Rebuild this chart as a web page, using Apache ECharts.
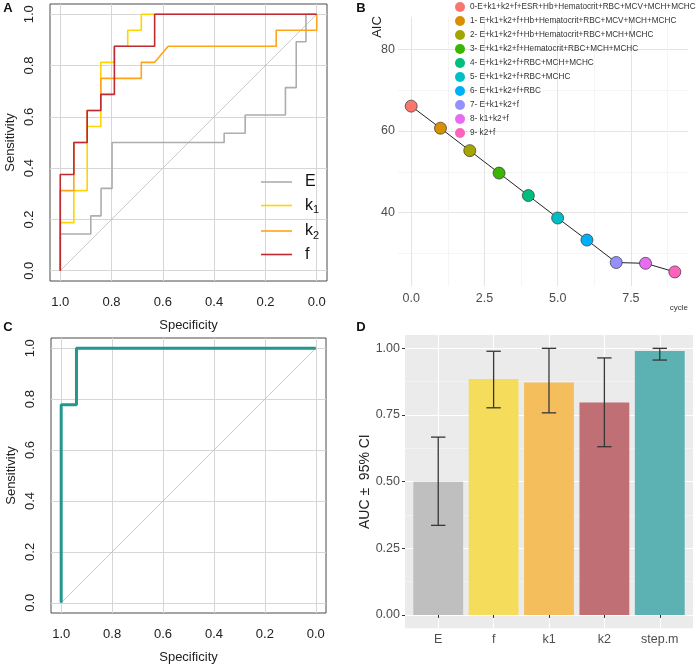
<!DOCTYPE html>
<html><head><meta charset="utf-8">
<script src="https://cdn.jsdelivr.net/npm/echarts@6/dist/echarts.min.js"></script>
<style>html,body{margin:0;padding:0;background:#fff}#c{width:700px;height:666px}</style>
</head><body><div id="c"></div>
<script>
// ---------- Panel A : ROC curves (specificity, sensitivity) ----------
const E_spec  = [1, 1, 0.881, 0.881, 0.841, 0.841, 0.798, 0.798, 0.361, 0.361, 0.279, 0.279, 0.122, 0.122, 0.080, 0.080, 0.042, 0.042, 0];
const E_sens  = [0, 0.143, 0.143, 0.214, 0.214, 0.321, 0.321, 0.5, 0.5, 0.536, 0.536, 0.607, 0.607, 0.714, 0.714, 0.893, 0.893, 1, 1];
const k1_spec = [1, 1, 0.947, 0.947, 0.895, 0.895, 0.842, 0.842, 0.789, 0.789, 0.737, 0.737, 0.684, 0.684, 0];
const k1_sens = [0, 0.1875, 0.1875, 0.3125, 0.3125, 0.5625, 0.5625, 0.8125, 0.8125, 0.875, 0.875, 0.9375, 0.9375, 1, 1];
const k2_spec = [1, 1, 0.947, 0.947, 0.895, 0.895, 0.842, 0.842, 0.684, 0.684, 0.632, 0.579, 0.158, 0.158, 0, 0];
const k2_sens = [0, 0.3125, 0.3125, 0.5, 0.5, 0.625, 0.625, 0.75, 0.75, 0.8125, 0.8125, 0.875, 0.875, 0.9375, 0.9375, 1];
const f_spec  = [1, 1, 0.947, 0.947, 0.895, 0.895, 0.842, 0.842, 0.789, 0.789, 0.632, 0.632, 0];
const f_sens  = [0, 0.375, 0.375, 0.5, 0.5, 0.625, 0.625, 0.6875, 0.6875, 0.875, 0.875, 1, 1];
const rocTicks = [0, 0.2, 0.4, 0.6, 0.8, 1.0];

// ---------- Panel B : stepwise AIC ----------
const cycles = [0, 1, 2, 3, 4, 5, 6, 7, 8, 9];
const aic = [66.1, 60.7, 55.2, 49.7, 44.2, 38.7, 33.3, 27.8, 27.6, 25.5];
const models = [
  '0-E+k1+k2+f+ESR+Hb+Hematocrit+RBC+MCV+MCH+MCHC',
  '1- E+k1+k2+f+Hb+Hematocrit+RBC+MCV+MCH+MCHC',
  '2- E+k1+k2+f+Hb+Hematocrit+RBC+MCH+MCHC',
  '3- E+k1+k2+f+Hematocrit+RBC+MCH+MCHC',
  '4- E+k1+k2+f+RBC+MCH+MCHC',
  '5- E+k1+k2+f+RBC+MCHC',
  '6- E+k1+k2+f+RBC',
  '7- E+k1+k2+f',
  '8- k1+k2+f',
  '9- k2+f'
];
const bXMajor = [0, 2.5, 5.0, 7.5];
const bXMinor = [1.25, 3.75, 6.25, 8.75];
const bYMajor = [40, 60, 80];
const bYMinor = [30, 50, 70];

// ---------- Panel C : step model ROC ----------
const step_spec = [1, 1, 0.94, 0.94, 0];
const step_sens = [0, 0.778, 0.778, 1, 1];

// ---------- Panel D : AUC ± 95% CI ----------
const cats   = ['E', 'f', 'k1', 'k2', 'step.m'];
const auc    = [0.500, 0.885, 0.872, 0.797, 0.990];
const ciLow  = [0.336, 0.777, 0.758, 0.631, 0.956];
const ciHigh = [0.667, 0.989, 1.000, 0.964, 1.000];
const dYMajor = [0, 0.25, 0.5, 0.75, 1.0];
const dYMinor = [0.125, 0.375, 0.625, 0.875];

// ---------- styles ----------
const FONT = 'Liberation Sans, Arial, Helvetica, sans-serif';
const rocColors = { E: '#ADADAD', k1: '#FFD500', k2: '#FFA31A', f: '#BE2A2E' };
const hue = ['#F8766D', '#D89000', '#A3A500', '#39B600', '#00BF7D', '#00BFC4', '#00B0F6', '#9590FF', '#E76BF3', '#FF62BC'];
const barColors = ['#BFBFBF', '#F6DC5B', '#F5BE5D', '#C07074', '#5CB1B2'];

const zip = (a, b) => a.map((v, i) => [v, b[i]]);

function rocXAxis(gi) {
  return {
    gridIndex: gi, type: 'value', inverse: true, min: -0.04, max: 1.04,
    axisLine: { show: false },
    axisTick: { show: false, customValues: rocTicks },
    axisLabel: { customValues: rocTicks, formatter: v => v.toFixed(1), margin: 15, fontSize: 13, color: '#222', fontFamily: FONT },
    splitLine: { show: true, lineStyle: { color: '#D6D6D6', width: 1 } },
    name: 'Specificity', nameLocation: 'middle', nameGap: 38,
    nameTextStyle: { fontSize: 13, color: '#222', fontFamily: FONT }
  };
}
function rocYAxis(gi) {
  return {
    gridIndex: gi, type: 'value', min: -0.04, max: 1.04,
    axisLine: { show: false },
    axisTick: { show: false, customValues: rocTicks },
    axisLabel: { customValues: rocTicks, formatter: v => v.toFixed(1), rotate: 90, margin: 14, fontSize: 13, color: '#222', fontFamily: FONT },
    splitLine: { show: true, lineStyle: { color: '#D6D6D6', width: 1 } },
    name: 'Sensitivity', nameLocation: 'middle', nameGap: 33,
    nameTextStyle: { fontSize: 13, color: '#222', fontFamily: FONT }
  };
}
function diag(xi) {
  return { type: 'line', xAxisIndex: xi, yAxisIndex: xi, data: [[1, 0], [0, 1]], symbol: 'none', silent: true,
    lineStyle: { color: '#BDBDBD', width: 0.8 }, z: 1 };
}
function hidden(extra) {
  return Object.assign({ axisLine: { show: false }, axisLabel: { show: false }, axisTick: { show: false } }, extra);
}

const series = [];
// A
series.push(diag(0));
[['E', E_spec, E_sens], ['k1', k1_spec, k1_sens], ['k2', k2_spec, k2_sens], ['f', f_spec, f_sens]].forEach(([n, s, t]) => {
  series.push({ name: n, type: 'line', xAxisIndex: 0, yAxisIndex: 0, data: zip(s, t), symbol: 'none',
    color: rocColors[n], lineStyle: { color: rocColors[n], width: 1.6 }, z: 3 });
});
// B
series.push({ type: 'line', xAxisIndex: 1, yAxisIndex: 1, data: zip(cycles, aic), symbol: 'none',
  lineStyle: { color: '#222', width: 1 }, silent: true, z: 2 });
models.forEach((m, i) => {
  series.push({ name: m, type: 'scatter', xAxisIndex: 1, yAxisIndex: 1, data: [[cycles[i], aic[i]]],
    symbolSize: 12, itemStyle: { color: hue[i], borderColor: '#333', borderWidth: 0.7, opacity: 1 }, z: 4 });
});
// C
series.push(diag(3));
series.push({ type: 'line', xAxisIndex: 3, yAxisIndex: 3, data: zip(step_spec, step_sens), symbol: 'none',
  lineStyle: { color: '#22968F', width: 3 }, z: 3 });
// D bars
series.push({
  type: 'custom', xAxisIndex: 4, yAxisIndex: 4,
  data: cats.map((c, i) => [i + 1, auc[i]]),
  encode: { x: 0, y: 1 },
  renderItem: (params, api) => {
    const x = api.value(0), v = api.value(1);
    const p0 = api.coord([x - 0.45, v]);
    const p1 = api.coord([x + 0.45, 0]);
    return { type: 'rect', shape: { x: p0[0], y: p0[1], width: p1[0] - p0[0], height: p1[1] - p0[1] },
      style: { fill: barColors[params.dataIndex] } };
  }, z: 3
});
// D error bars
series.push({
  type: 'custom', xAxisIndex: 4, yAxisIndex: 4,
  data: cats.map((c, i) => [i + 1, ciLow[i], ciHigh[i]]),
  encode: { x: 0, y: [1, 2] },
  renderItem: (params, api) => {
    const x = api.value(0), lo = api.value(1), hi = api.value(2);
    const top = api.coord([x, hi]), bot = api.coord([x, lo]);
    const l = api.coord([x - 0.13, hi])[0], r = api.coord([x + 0.13, hi])[0];
    const st = { stroke: '#363636', lineWidth: 1.3 };
    return { type: 'group', children: [
      { type: 'line', shape: { x1: top[0], y1: top[1], x2: bot[0], y2: bot[1] }, style: st },
      { type: 'line', shape: { x1: l, y1: top[1], x2: r, y2: top[1] }, style: st },
      { type: 'line', shape: { x1: l, y1: bot[1], x2: r, y2: bot[1] }, style: st }
    ] };
  }, z: 4
});

const letter = (t, x, y) => ({ type: 'text', x: x, y: y, style: { text: t, font: 'bold 13px ' + FONT, fill: '#111', align: 'center', verticalAlign: 'middle' } });

const option = {
  animation: false,
  backgroundColor: '#fff',
  textStyle: { fontFamily: FONT },
  grid: [
    { left: 50, top: 4, width: 277, height: 277, show: true, borderColor: '#4A4A4A', borderWidth: 1, backgroundColor: 'transparent' },
    { left: 398, top: 16.7, width: 290, height: 269.5, show: false },
    { left: 51, top: 338, width: 275, height: 275, show: true, borderColor: '#4A4A4A', borderWidth: 1, backgroundColor: 'transparent' },
    { left: 405, top: 335, width: 288, height: 293.3, show: true, borderWidth: 0, backgroundColor: '#EBEBEB' }
  ],
  xAxis: [
    rocXAxis(0),
    { gridIndex: 1, type: 'value', min: -0.45, max: 9.45,
      axisLine: { show: false }, axisTick: { show: false, customValues: bXMajor },
      axisLabel: { customValues: bXMajor, formatter: v => v.toFixed(1), margin: 6, fontSize: 12.5, color: '#4D4D4D' },
      splitLine: { show: true, lineStyle: { color: '#E4E4E4', width: 1 } } },
    hidden({ gridIndex: 1, type: 'value', min: -0.45, max: 9.45, position: 'top',
      axisTick: { show: false, customValues: bXMinor },
      splitLine: { show: true, lineStyle: { color: '#F0F0F0', width: 0.7 } } }),
    rocXAxis(2),
    { gridIndex: 3, type: 'value', min: 0.4, max: 5.6,
      axisLine: { show: false },
      axisTick: { show: true, length: 3, customValues: [1, 2, 3, 4, 5], lineStyle: { color: '#333' } },
      axisLabel: { customValues: [1, 2, 3, 4, 5], formatter: v => cats[Math.round(v) - 1], margin: 5, fontSize: 12.5, color: '#4D4D4D' },
      splitLine: { show: true, lineStyle: { color: '#FFFFFF', width: 1.1 } } }
  ],
  yAxis: [
    rocYAxis(0),
    { gridIndex: 1, type: 'value', min: 22, max: 88,
      axisLine: { show: false }, axisTick: { show: false, customValues: bYMajor },
      axisLabel: { customValues: bYMajor, margin: 3, fontSize: 12.5, color: '#4D4D4D' },
      splitLine: { show: true, lineStyle: { color: '#E4E4E4', width: 1 } } },
    hidden({ gridIndex: 1, type: 'value', min: 22, max: 88, position: 'right',
      axisTick: { show: false, customValues: bYMinor },
      splitLine: { show: true, lineStyle: { color: '#F0F0F0', width: 0.7 } } }),
    rocYAxis(2),
    { gridIndex: 3, type: 'value', min: -0.05, max: 1.05,
      axisLine: { show: false },
      axisTick: { show: true, length: 3, customValues: dYMajor, lineStyle: { color: '#333' } },
      axisLabel: { customValues: dYMajor, formatter: v => v.toFixed(2), margin: 5, fontSize: 12.5, color: '#4D4D4D' },
      splitLine: { show: true, lineStyle: { color: '#FFFFFF', width: 1.1 } },
      name: 'AUC \u00B1  95% CI', nameLocation: 'middle', nameGap: 29,
      nameTextStyle: { fontSize: 14, color: '#222' } },
    hidden({ gridIndex: 3, type: 'value', min: -0.05, max: 1.05, position: 'right',
      axisTick: { show: false, customValues: dYMinor },
      splitLine: { show: true, lineStyle: { color: '#F7F7F7', width: 0.6 } } })
  ],
  legend: [
    { data: ['E', 'k1', 'k2', 'f'], orient: 'vertical', left: 256, top: 169, icon: 'rect',
      itemWidth: 31, itemHeight: 1.6, itemGap: 5.5, selectedMode: false,
      formatter: n => (n === 'k1' || n === 'k2') ? '{m|k}{s|' + n[1] + '}' : '{m|' + n + '}',
      textStyle: { fontSize: 16, color: '#111', padding: [0, 0, 0, 8],
        rich: { m: { fontSize: 16, color: '#111', lineHeight: 20 }, s: { fontSize: 11, color: '#111', padding: [9, 0, 0, 0], lineHeight: 20 } } } },
    { data: models, orient: 'vertical', left: 450, top: -3, icon: 'circle',
      itemWidth: 10, itemHeight: 10, itemGap: 4, selectedMode: false,
      itemStyle: { borderWidth: 0 },
      textStyle: { fontSize: 8.2, color: '#333' } }
  ],
  graphic: [
    letter('A', 8, 8), letter('B', 361, 8), letter('C', 8, 327), letter('D', 361, 327),
    { type: 'text', x: 377, y: 27, rotation: Math.PI / 2,
      style: { text: 'AIC', font: '13px ' + FONT, fill: '#222', align: 'center', verticalAlign: 'middle' } },
    { type: 'text', x: 688, y: 308,
      style: { text: 'cycle', font: '8px ' + FONT, fill: '#333', align: 'right', verticalAlign: 'middle' } }
  ],
  series: series
};

echarts.init(document.getElementById('c'), null, { renderer: 'canvas' }).setOption(option);
</script>
</body></html>
